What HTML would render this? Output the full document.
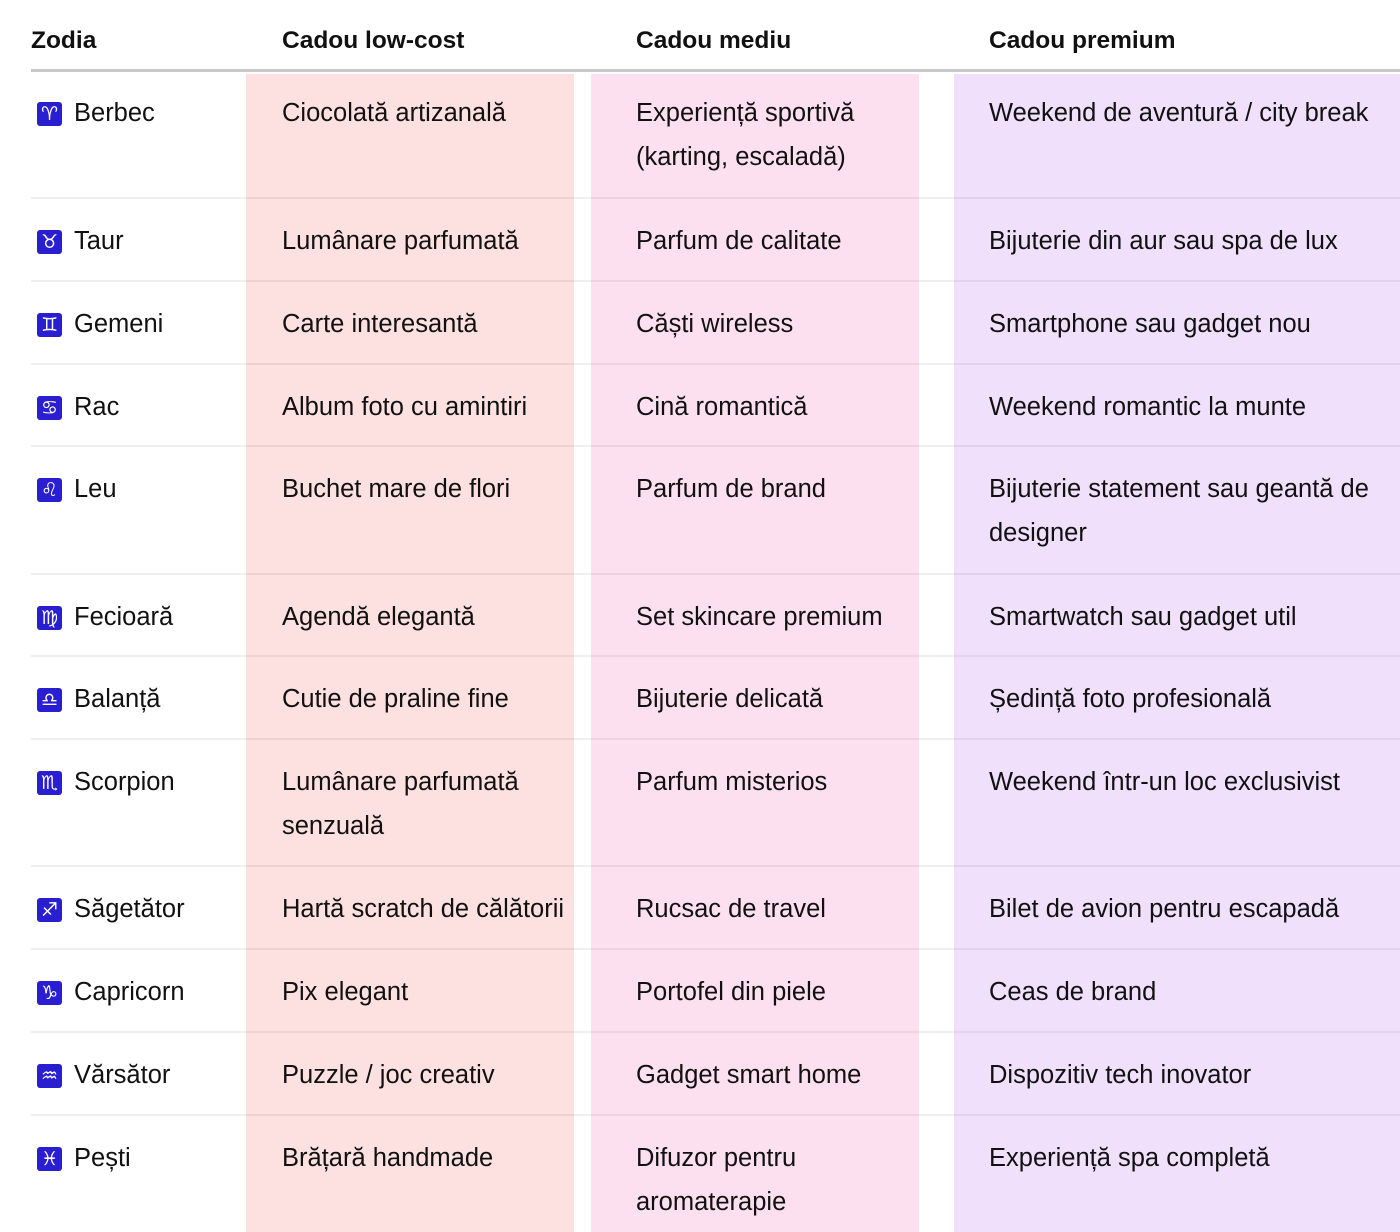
<!DOCTYPE html>
<html><head><meta charset="utf-8"><style>
body{margin:0;width:1400px;height:1232px;background:#fff;position:relative;overflow:hidden;font-family:"Liberation Sans","DejaVu Sans",sans-serif;color:#111;}
.bg{position:absolute;top:74px;bottom:0}
.h{position:absolute;top:24px;font-weight:bold;font-size:24.5px;line-height:34px;color:#111}
.hl{position:absolute;left:31px;right:0;top:69px;height:3px;background:#c8c8c8}
.rl{position:absolute;left:31px;right:0;height:2px;background:rgba(0,0,0,0.06)}
.t{position:absolute;font-size:25.5px;line-height:44px;white-space:nowrap}
.ic{position:absolute;left:37px;width:25px;height:24px;background:#2a1fd0;border-radius:3px;color:#fff;font-family:"DejaVu Sans",sans-serif;font-size:19px;line-height:24px;text-align:center;font-weight:bold}
</style></head><body>
<div class="bg" style="left:246px;width:328px;background:#fde0e0"></div>
<div class="bg" style="left:591px;width:328px;background:#fde0ef"></div>
<div class="bg" style="left:954px;width:446px;background:#f0e0fc"></div>
<div class="h" style="left:31px">Zodia</div>
<div class="h" style="left:282px">Cadou low-cost</div>
<div class="h" style="left:636px">Cadou mediu</div>
<div class="h" style="left:989px">Cadou premium</div>
<div class="hl"></div>
<div id="rows"></div>
<script>
var d=[
["♈","Berbec","Ciocolată artizanală","Experiență sportivă<br>(karting, escaladă)","Weekend de aventură / city break",70],
["♉","Taur","Lumânare parfumată","Parfum de calitate","Bijuterie din aur sau spa de lux",198],
["♊","Gemeni","Carte interesantă","Căști wireless","Smartphone sau gadget nou",281],
["♋","Rac","Album foto cu amintiri","Cină romantică","Weekend romantic la munte",364],
["♌","Leu","Buchet mare de flori","Parfum de brand","Bijuterie statement sau geantă de<br>designer",446],
["♍","Fecioară","Agendă elegantă","Set skincare premium","Smartwatch sau gadget util",574],
["♎","Balanță","Cutie de praline fine","Bijuterie delicată","Ședință foto profesională",656],
["♏","Scorpion","Lumânare parfumată<br>senzuală","Parfum misterios","Weekend într-un loc exclusivist",739],
["♐","Săgetător","Hartă scratch de călătorii","Rucsac de travel","Bilet de avion pentru escapadă",866],
["♑","Capricorn","Pix elegant","Portofel din piele","Ceas de brand",949],
["♒","Vărsător","Puzzle / joc creativ","Gadget smart home","Dispozitiv tech inovator",1032],
["♓","Pești","Brățară handmade","Difuzor pentru<br>aromaterapie","Experiență spa completă",1115]];
var h="";
d.forEach(function(r,i){var y=r[5];
if(i>0)h+='<div class="rl" style="top:'+(y-1)+'px"></div>';
var ty=y+21;
h+='<div class="ic" style="top:'+(y+32)+'px">'+r[0]+'</div>';
h+='<div class="t" style="left:74px;top:'+ty+'px">'+r[1]+'</div>';
h+='<div class="t" style="left:282px;top:'+ty+'px">'+r[2]+'</div>';
h+='<div class="t" style="left:636px;top:'+ty+'px">'+r[3]+'</div>';
h+='<div class="t" style="left:989px;top:'+ty+'px">'+r[4]+'</div>';});
document.getElementById("rows").innerHTML=h;
</script>
</body></html>
